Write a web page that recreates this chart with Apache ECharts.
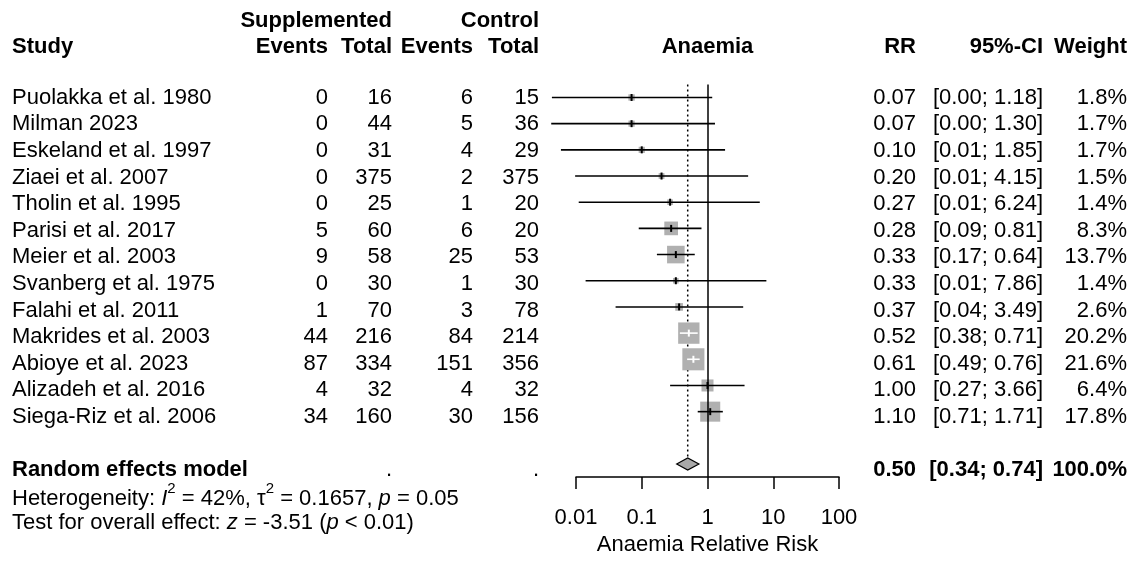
<!DOCTYPE html>
<html>
<head>
<meta charset="utf-8">
<title>Anaemia forest plot</title>
<script src="https://cdn.jsdelivr.net/npm/echarts@6/dist/echarts.min.js"></script>
<style>
  html, body { margin: 0; padding: 0; background: #fff; }
  #chart { width: 1132px; height: 561px; }
</style>
</head>
<body>
<div id="chart"></div>
<script>
const studies = [
  "Puolakka et al. 1980", "Milman 2023", "Eskeland et al. 1997", "Ziaei et al. 2007",
  "Tholin et al. 1995", "Parisi et al. 2017", "Meier et al. 2003", "Svanberg et al. 1975",
  "Falahi et al. 2011", "Makrides et al. 2003", "Abioye et al. 2023", "Alizadeh et al. 2016",
  "Siega-Riz et al. 2006"
];
const suppEvents = [0, 0, 0, 0, 0, 5, 9, 0, 1, 44, 87, 4, 34];
const suppTotal = [16, 44, 31, 375, 25, 60, 58, 30, 70, 216, 334, 32, 160];
const ctrlEvents = [6, 5, 4, 2, 1, 6, 25, 1, 3, 84, 151, 4, 30];
const ctrlTotal = [15, 36, 29, 375, 20, 20, 53, 30, 78, 214, 356, 32, 156];
const rr = [0.07, 0.07, 0.10, 0.20, 0.27, 0.28, 0.33, 0.33, 0.37, 0.52, 0.61, 1.00, 1.10];
const ciLow = [0.0043, 0.0042, 0.0059, 0.0097, 0.011, 0.09, 0.17, 0.014, 0.04, 0.38, 0.49, 0.27, 0.71];
const ciHigh = [1.18, 1.30, 1.85, 4.15, 6.24, 0.81, 0.64, 7.86, 3.49, 0.71, 0.76, 3.66, 1.71];
const weight = [1.8, 1.7, 1.7, 1.5, 1.4, 8.3, 13.7, 1.4, 2.6, 20.2, 21.6, 6.4, 17.8];

const pooledRR = 0.50;
const pooledLow = 0.34;
const pooledHigh = 0.74;
const pooledWeight = 100.0;
const pooledRow = 15;

const FONT = "'Liberation Sans', Arial, Helvetica, sans-serif";
const FS = 22;

// text column anchors (pixels across the page)
const col = { name: 12, suppEv: 328, suppTot: 392, ctrlEv: 473, ctrlTot: 539, plotMid: 707.5, rr: 916, ci: 1043, w: 1127 };

const fmt2 = (v) => v.toFixed(2);
const ciText = (lo, hi) => `[${fmt2(lo)}; ${fmt2(hi)}]`;

const cells = [];
function cell(x, row, text, align, bold, rich) {
  cells.push({ x, row, text: String(text), align, bold: !!bold, rich });
}

// headers
cell(col.suppTot, -1.88, "Supplemented", "right", true);
cell(col.ctrlTot, -1.88, "Control", "right", true);
cell(col.name, -0.9, "Study", "left", true);
cell(col.suppEv, -0.9, "Events", "right", true);
cell(col.suppTot, -0.9, "Total", "right", true);
cell(col.ctrlEv, -0.9, "Events", "right", true);
cell(col.ctrlTot, -0.9, "Total", "right", true);
cell(col.plotMid, -0.9, "Anaemia", "center", true);
cell(col.rr, -0.9, "RR", "right", true);
cell(col.ci, -0.9, "95%-CI", "right", true);
cell(col.w, -0.9, "Weight", "right", true);

studies.forEach((name, i) => {
  const row = i + 1;
  cell(col.name, row, name, "left");
  cell(col.suppEv, row, suppEvents[i], "right");
  cell(col.suppTot, row, suppTotal[i], "right");
  cell(col.ctrlEv, row, ctrlEvents[i], "right");
  cell(col.ctrlTot, row, ctrlTotal[i], "right");
  cell(col.rr, row, fmt2(rr[i]), "right");
  cell(col.ci, row, ciText(ciLow[i], ciHigh[i]), "right");
  cell(col.w, row, weight[i].toFixed(1) + "%", "right");
});

cell(col.name, pooledRow, "Random effects model", "left", true);
cell(col.suppTot, pooledRow, ".", "right");
cell(col.ctrlTot, pooledRow, ".", "right");
cell(col.rr, pooledRow, fmt2(pooledRR), "right", true);
cell(col.ci, pooledRow, ciText(pooledLow, pooledHigh), "right", true);
cell(col.w, pooledRow, pooledWeight.toFixed(1) + "%", "right", true);
cell(col.name, 16.1, "Heterogeneity: {it|I}{sup|2} = 42%, τ{sup|2} = 0.1657, {it|p} = 0.05", "left", false, true);
cell(col.name, 17.0, "Test for overall effect: {it|z} = -3.51 ({it|p} < 0.01)", "left", false, true);

const richStyles = {
  it: { fontStyle: "italic", fontFamily: FONT, fontSize: FS, lineHeight: 22 },
  sup: { fontFamily: FONT, fontSize: 15, lineHeight: 15, verticalAlign: "top" }
};

function renderCell(params, api) {
  const c = cells[params.dataIndex];
  const p = api.coord([c.x, c.row]);
  const style = {
    text: c.text,
    x: 0, y: 0,
    align: c.align,
    verticalAlign: "middle",
    fontFamily: FONT,
    fontSize: FS,
    fontWeight: c.bold ? "bold" : "normal",
    fill: "#000"
  };
  if (c.rich) {
    style.rich = richStyles;
    style.lineHeight = 36;
  }
  return { type: "text", x: p[0], y: p[1], style };
}

function renderStudy(params, api) {
  const row = api.value(1);
  const c = api.coord([api.value(0), row]);
  const l = api.coord([api.value(2), row]);
  const h = api.coord([api.value(3), row]);
  const s = 4.75 * Math.sqrt(api.value(4));
  const inside = l[0] >= c[0] - s / 2 && h[0] <= c[0] + s / 2;
  const stroke = inside ? "#fff" : "#000";
  const y = c[1];
  return {
    type: "group",
    children: [
      { type: "rect", shape: { x: c[0] - s / 2, y: c[1] - s / 2, width: s, height: s }, style: { fill: "#b0b0b0" } },
      { type: "line", shape: { x1: l[0], y1: y, x2: h[0], y2: y }, style: { stroke, lineWidth: 1.6 } },
      { type: "line", shape: { x1: c[0], y1: y - 3.5, x2: c[0], y2: y + 3.5 }, style: { stroke, lineWidth: 2 } }
    ]
  };
}

function renderPooled(params, api) {
  const row = api.value(1);
  const c = api.coord([api.value(0), row]);
  const l = api.coord([api.value(2), row]);
  const h = api.coord([api.value(3), row]);
  const top = api.coord([api.value(0), 0.5]);
  const half = 6;
  return {
    type: "group",
    children: [
      {
        type: "line",
        shape: { x1: c[0], y1: top[1], x2: c[0], y2: c[1] - half },
        style: { stroke: "#000", lineWidth: 1.5, lineDash: [2, 3] }
      },
      {
        type: "polygon",
        shape: { points: [[l[0], c[1]], [c[0], c[1] - half], [h[0], c[1]], [c[0], c[1] + half]] },
        style: { fill: "#a9a9a9", stroke: "#000", lineWidth: 1.2 }
      }
    ]
  };
}

const rowAxis = { type: "value", inverse: true, min: 0.5, max: 15.5, show: false };
const gridTop = 84.4;
const gridHeight = 399;

const option = {
  animation: false,
  backgroundColor: "#fff",
  grid: [
    { left: 576, width: 263, top: gridTop, height: gridHeight, containLabel: false },
    { left: 0, width: 1132, top: gridTop, height: gridHeight, containLabel: false }
  ],
  xAxis: [
    {
      type: "log",
      logBase: 10,
      min: 0.01,
      max: 100,
      gridIndex: 0,
      name: "Anaemia Relative Risk",
      nameLocation: "middle",
      nameGap: 55,
      nameTextStyle: { fontFamily: FONT, fontSize: FS, color: "#000" },
      axisLine: { show: true, lineStyle: { color: "#000", width: 1.5 } },
      axisTick: { show: true, inside: false, length: 12, lineStyle: { color: "#000", width: 1.5 } },
      minorTick: { show: false },
      splitLine: { show: false },
      axisLabel: {
        margin: 30,
        fontFamily: FONT,
        fontSize: FS,
        color: "#000",
        formatter: (v) => String(Number(Number(v).toPrecision(6)))
      }
    },
    { type: "value", min: 0, max: 1132, gridIndex: 1, show: false }
  ],
  yAxis: [
    Object.assign({ gridIndex: 0 }, rowAxis),
    Object.assign({ gridIndex: 1 }, rowAxis)
  ],
  series: [
    {
      type: "custom",
      name: "pooled",
      xAxisIndex: 0,
      yAxisIndex: 0,
      z: 2,
      clip: false,
      renderItem: renderPooled,
      data: [[pooledRR, pooledRow, pooledLow, pooledHigh]]
    },
    {
      type: "custom",
      name: "studies",
      xAxisIndex: 0,
      yAxisIndex: 0,
      z: 3,
      clip: false,
      renderItem: renderStudy,
      data: studies.map((_, i) => [rr[i], i + 1, ciLow[i], ciHigh[i], weight[i]]),
      markLine: {
        silent: true,
        symbol: "none",
        label: { show: false },
        lineStyle: { color: "#000", type: "solid", width: 1.5 },
        data: [{ xAxis: 1 }]
      }
    },
    {
      type: "custom",
      name: "table",
      xAxisIndex: 1,
      yAxisIndex: 1,
      z: 4,
      clip: false,
      renderItem: renderCell,
      data: cells.map((c) => [c.x, c.row])
    }
  ]
};

const chart = echarts.init(document.getElementById("chart"), null, { renderer: "canvas" });
chart.setOption(option);
</script>
</body>
</html>
